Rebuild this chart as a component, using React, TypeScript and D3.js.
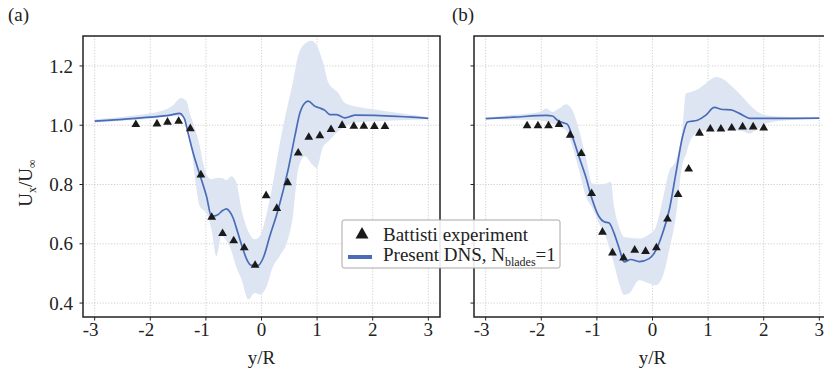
import React from 'react'
import * as d3 from 'd3'

const xTicks = [-3, -2, -1, 0, 1, 2, 3]
const yTicks = [0.4, 0.6, 0.8, 1.0, 1.2]

// panel (a): experiment points
const expXA = [-2.26, -1.88, -1.69, -1.49, -1.28, -1.09, -0.895, -0.70, -0.50, -0.31, -0.115, 0.083, 0.275, 0.47, 0.66, 0.85, 1.05, 1.25, 1.45, 1.66, 1.84, 2.03, 2.22]
const expYA = [1.006, 1.008, 1.014, 1.017, 0.992, 0.836, 0.693, 0.638, 0.614, 0.590, 0.531, 0.766, 0.723, 0.810, 0.910, 0.963, 0.968, 0.989, 1.003, 1.0, 1.0, 0.999, 0.999]

// panel (a): DNS mean line
const dnsXA = [-3.0, -2.5, -2.0, -1.65, -1.47, -1.41, -1.38, -1.32, -1.23, -1.11, -0.99, -0.90, -0.84, -0.78, -0.70, -0.63, -0.57, -0.51, -0.45, -0.39, -0.33, -0.27, -0.18, -0.06, 0.03, 0.15, 0.30, 0.48, 0.60, 0.69, 0.78, 0.84, 0.96, 1.05, 1.14, 1.23, 1.35, 1.50, 1.60, 1.68, 2.04, 3.0]
const dnsYA = [1.014, 1.020, 1.027, 1.034, 1.040, 1.030, 1.019, 0.974, 0.907, 0.834, 0.761, 0.693, 0.694, 0.699, 0.712, 0.718, 0.708, 0.687, 0.652, 0.615, 0.580, 0.549, 0.527, 0.527, 0.552, 0.626, 0.716, 0.851, 0.963, 1.041, 1.075, 1.081, 1.064, 1.058, 1.050, 1.036, 1.036, 1.025, 1.030, 1.034, 1.033, 1.023]

// panel (a): DNS spread band
const bandXA = [-3.0, -2.5, -2.0, -1.8, -1.6, -1.45, -1.35, -1.29, -1.2, -1.11, -1.05, -0.99, -0.9, -0.81, -0.72, -0.63, -0.54, -0.45, -0.36, -0.24, -0.12, -0.03, 0.09, 0.2, 0.33, 0.45, 0.57, 0.66, 0.78, 0.9, 0.99, 1.11, 1.2, 1.38, 1.5, 1.68, 2.04, 2.5, 3.0]
const bandLoA = [1.008, 1.015, 1.022, 1.026, 1.030, 1.030, 1.012, 0.974, 0.828, 0.727, 0.715, 0.704, 0.648, 0.558, 0.626, 0.610, 0.575, 0.520, 0.480, 0.412, 0.434, 0.429, 0.455, 0.520, 0.560, 0.600, 0.700, 0.851, 0.895, 0.870, 0.856, 0.929, 0.945, 0.980, 0.995, 1.008, 1.013, 1.017, 1.020]
const bandHiA = [1.020, 1.028, 1.040, 1.048, 1.066, 1.092, 1.082, 1.041, 0.990, 0.930, 0.873, 0.835, 0.818, 0.822, 0.822, 0.815, 0.828, 0.805, 0.716, 0.643, 0.615, 0.626, 0.700, 0.800, 0.940, 1.050, 1.150, 1.235, 1.275, 1.285, 1.270, 1.210, 1.145, 1.109, 1.075, 1.064, 1.053, 1.040, 1.027]

// panel (b): experiment points
const expXB = [-2.255, -2.06, -1.87, -1.68, -1.48, -1.28, -1.095, -0.90, -0.72, -0.52, -0.32, -0.125, 0.07, 0.27, 0.46, 0.65, 0.845, 1.04, 1.23, 1.425, 1.62, 1.81, 2.0]
const expYB = [1.002, 1.002, 1.002, 1.006, 0.970, 0.908, 0.773, 0.643, 0.573, 0.556, 0.582, 0.578, 0.590, 0.687, 0.770, 0.856, 0.977, 0.991, 0.991, 0.994, 0.998, 0.998, 0.994]

// panel (b): DNS mean line
const dnsXB = [-3.0, -2.5, -1.91, -1.80, -1.71, -1.60, -1.53, -1.44, -1.32, -1.20, -1.08, -0.96, -0.87, -0.78, -0.69, -0.60, -0.51, -0.39, -0.24, -0.06, 0.06, 0.18, 0.30, 0.42, 0.54, 0.63, 0.81, 0.96, 1.11, 1.26, 1.41, 1.56, 1.77, 2.04, 3.0]
const dnsYB = [1.022, 1.027, 1.033, 1.031, 1.017, 1.008, 1.003, 0.961, 0.893, 0.826, 0.747, 0.691, 0.674, 0.670, 0.635, 0.585, 0.539, 0.547, 0.540, 0.550, 0.578, 0.635, 0.713, 0.837, 0.961, 1.011, 1.017, 1.034, 1.060, 1.053, 1.052, 1.040, 1.023, 1.023, 1.024]

// panel (b): DNS spread band
const bandXB = [-3.0, -2.5, -2.03, -1.91, -1.8, -1.68, -1.555, -1.44, -1.32, -1.2, -1.08, -0.96, -0.84, -0.75, -0.69, -0.6, -0.51, -0.42, -0.24, -0.06, 0.06, 0.18, 0.3, 0.42, 0.54, 0.6, 0.66, 0.78, 0.96, 1.14, 1.26, 1.44, 1.62, 1.74, 1.86, 2.04, 2.5, 3.0]
const bandLoB = [1.020, 1.019, 1.017, 1.012, 1.006, 0.994, 0.983, 0.927, 0.848, 0.760, 0.720, 0.668, 0.623, 0.570, 0.530, 0.466, 0.427, 0.432, 0.477, 0.466, 0.460, 0.488, 0.578, 0.691, 0.871, 0.900, 0.938, 0.972, 0.983, 0.983, 0.983, 0.983, 0.980, 0.972, 0.983, 1.006, 1.018, 1.021]
const bandHiB = [1.025, 1.035, 1.045, 1.056, 1.045, 1.056, 1.071, 1.051, 0.983, 0.893, 0.803, 0.801, 0.803, 0.809, 0.725, 0.657, 0.623, 0.620, 0.618, 0.632, 0.657, 0.747, 0.845, 0.880, 0.990, 1.107, 1.110, 1.118, 1.141, 1.163, 1.157, 1.129, 1.095, 1.070, 1.050, 1.034, 1.028, 1.026]

const W = 824
const H = 374
const TOP = 36
const BOTTOM = 317
const PW = 357
const FONT = '"Liberation Serif", "Times New Roman", serif'
const BLUE = '#4a6cb8'
const BAND = '#dde5f3'

type PanelProps = {
  left: number
  tag: string
  tagX: number
  expX: number[]
  expY: number[]
  dnsX: number[]
  dnsY: number[]
  bandX: number[]
  bandLo: number[]
  bandHi: number[]
  yLabels: boolean
}

function Panel(p: PanelProps) {
  const x = d3.scaleLinear().domain([-3.21, 3.21]).range([p.left, p.left + PW])
  const y = d3.scaleLinear().domain([0.353, 1.301]).range([BOTTOM, TOP])
  const idxB = d3.range(p.bandX.length)
  const idxL = d3.range(p.dnsX.length)
  const area = d3
    .area<number>()
    .x((i) => x(p.bandX[i]))
    .y0((i) => y(p.bandLo[i]))
    .y1((i) => y(p.bandHi[i]))
    .curve(d3.curveMonotoneX)
  const line = d3
    .line<number>()
    .x((i) => x(p.dnsX[i]))
    .y((i) => y(p.dnsY[i]))
    .curve(d3.curveMonotoneX)
  const cx = p.left + PW / 2

  return (
    <g>
      {xTicks.map((t) => (
        <line key={'gx' + t} x1={x(t)} x2={x(t)} y1={TOP} y2={BOTTOM} stroke="#c4c4c4" strokeWidth={0.8} strokeDasharray="1.2,1.6" />
      ))}
      {yTicks.map((t) => (
        <line key={'gy' + t} x1={p.left} x2={p.left + PW} y1={y(t)} y2={y(t)} stroke="#c4c4c4" strokeWidth={0.8} strokeDasharray="1.2,1.6" />
      ))}
      <path d={area(idxB) || ''} fill={BAND} />
      <path d={line(idxL) || ''} fill="none" stroke={BLUE} strokeWidth={1.7} />
      {p.expX.map((v, i) => (
        <path key={'e' + i} transform={`translate(${x(v)},${y(p.expY[i])})`} d="M0,-4L4.4,3.6L-4.4,3.6Z" fill="#1a1a1a" />
      ))}
      <rect x={p.left} y={TOP} width={PW} height={BOTTOM - TOP} fill="none" stroke="#222" strokeWidth={1.5} />
      {xTicks.map((t) => (
        <g key={'tx' + t}>
          <line x1={x(t)} x2={x(t)} y1={BOTTOM} y2={BOTTOM + 3.5} stroke="#222" strokeWidth={1} />
          <text x={x(t) + (t < 0 ? -4 : 0)} y={336} textAnchor="middle" fontSize={19} fontFamily={FONT} fill="#222">
            {t < 0 ? '-' + Math.abs(t) : String(t)}
          </text>
        </g>
      ))}
      {yTicks.map((t) => (
        <g key={'ty' + t}>
          <line x1={p.left - 3.5} x2={p.left} y1={y(t)} y2={y(t)} stroke="#222" strokeWidth={1} />
          {p.yLabels && (
            <text x={73} y={y(t) + 6.7} textAnchor="end" fontSize={19} fontFamily={FONT} fill="#222">
              {t.toFixed(1)}
            </text>
          )}
        </g>
      ))}
      <text x={cx} y={364} textAnchor="middle" fontSize={19} fontFamily={FONT} fill="#222">
        y/R
      </text>
      <text x={p.tagX} y={21} fontSize={19} fontFamily={FONT} fill="#222">
        {p.tag}
      </text>
    </g>
  )
}

export default function App() {
  return (
    <svg width={W} height={H} style={{ position: 'absolute', left: 0, top: 0, background: '#fff' }}>
      <rect width={W} height={H} fill="#fff" />
      <Panel left={83} tag="(a)" tagX={8} expX={expXA} expY={expYA} dnsX={dnsXA} dnsY={dnsYA} bandX={bandXA} bandLo={bandLoA} bandHi={bandHiA} yLabels={true} />
      <Panel left={474} tag="(b)" tagX={452} expX={expXB} expY={expYB} dnsX={dnsXB} dnsY={dnsYB} bandX={bandXB} bandLo={bandLoB} bandHi={bandHiB} yLabels={false} />
      <text transform="translate(32,183) rotate(-90)" textAnchor="middle" fontSize={19} fontFamily={FONT} fill="#222">
        U<tspan fontSize={12} dy={4}>x</tspan>
        <tspan dy={-4}>/U</tspan>
        <tspan fontSize={12} dy={4}>∞</tspan>
      </text>
      <g>
        <rect x={342} y={220} width={218} height={48} rx={2} fill="#fff" fillOpacity={0.9} stroke="#a8a8a8" strokeWidth={1} />
        <path transform="translate(362,233)" d="M0,-6L6.5,5.5L-6.5,5.5Z" fill="#1a1a1a" />
        <text x={383} y={241} fontSize={19} fontFamily={FONT} fill="#222">
          Battisti experiment
        </text>
        <line x1={348} x2={372} y1={257} y2={257} stroke={BLUE} strokeWidth={4} />
        <text x={383} y={261} fontSize={19} fontFamily={FONT} fill="#222">
          Present DNS, N<tspan fontSize={12} dy={5}>blades</tspan>
          <tspan dy={-5}>=1</tspan>
        </text>
      </g>
    </svg>
  )
}
